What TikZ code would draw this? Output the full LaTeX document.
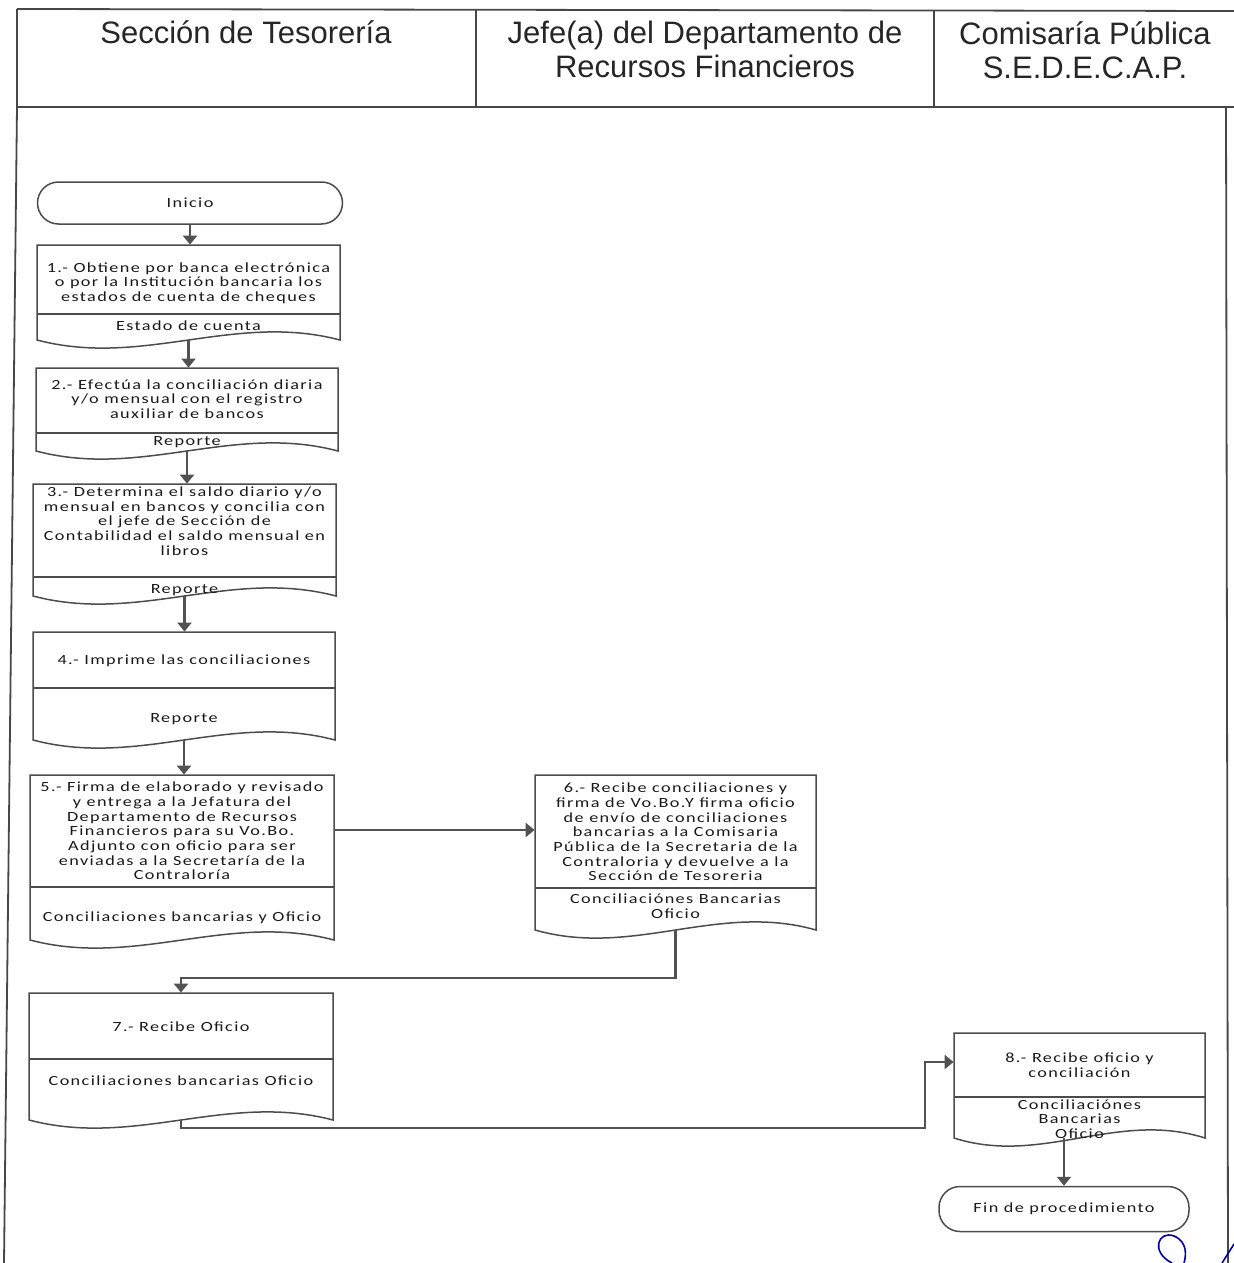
\documentclass[tikz,border=0pt]{standalone}
\usepackage{fontspec}
\usetikzlibrary{arrows.meta,fit}
\newfontfamily\headfont{Liberation Sans}
\newfontfamily\stepfont[FakeStretch=1.3,LetterSpace=10]{Carlito}

\tikzset{
  frame/.style={draw=black!72, line width=0.9pt},
  shapeline/.style={draw=black!70, line width=0.75pt},
  flow/.style={draw=black!68, line width=1.1pt, -{Triangle[length=4.5pt,width=7pt]}},
  head/.style={font=\headfont\fontsize{15.5}{17}\selectfont, text=black!85, align=center, inner sep=0pt},
  steptext/.style={font=\stepfont\fontsize{7}{7.35}\selectfont, text=black!90, align=center, inner sep=0pt},
  term/.style={draw=black!70, line width=0.75pt, rounded corners=10.5pt, inner sep=0pt,
    font=\stepfont\fontsize{7}{7.35}\selectfont, text=black!90},
  boxarea/.style={inner sep=0pt}
}

% document shape: name, x1, y1, x2, y2 (bottom corners), y of the separator
\newcommand\docbox[6]{%
  \node[boxarea, fit={(#2,#3) (#4,#5)}] (#1) {};
  \draw[shapeline] (#2,#3) -- (#4,#3) -- (#4,#5)
    .. controls ({#4-0.35*(#4-#2)},{#5-28}) and ({#2+0.35*(#4-#2)},{#5+28}) .. (#2,#5) -- cycle;
  \draw[shapeline] (#2,#6) -- (#4,#6);
}

\begin{document}
\begin{tikzpicture}[x=0.5pt,y=-0.5pt]
\useasboundingbox (0,0) rectangle (1234,1263);

% swimlane header and frame
\draw[frame] (17,9) -- (1236,11);
\draw[frame] (17,107) -- (1236,107);
\draw[frame] (17,9) -- (17,107) -- (4,1263);
\draw[frame] (476,9) -- (476,107);
\draw[frame] (934,10) -- (934,107);
\draw[frame] (1226,107) -- (1228,1263);

\node[head] (h1) at (246,32) {Sección de Tesorería};
\node[head] (h2) at (705,49) {Jefe(a) del Departamento de\\Recursos Financieros};
\node[head] (h3) at (1085,50) {Comisaría Pública\\S.E.D.E.C.A.P.};

% start
\node[term, minimum width=152.5pt, minimum height=21pt] (ini) at (190,203) {Inicio};

% process steps
\docbox{b1}{37}{245}{340}{340}{314}
\node[steptext] (b1t) at (188.5,283) {1.- Obtiene por banca electrónica\\o por la Institución bancaria los\\estados de cuenta de cheques};
\node[steptext] (b1l) at (188.5,326) {Estado de cuenta};

\docbox{b2}{36}{368}{338}{451}{433}
\node[steptext] (b2t) at (187,399) {2.- Efectúa la conciliación diaria\\y/o mensual con el registro\\auxiliar de bancos};
\node[steptext] (b2l) at (187,442) {Reporte};

\docbox{b3}{33}{484}{336}{596}{577}
\node[steptext] (b3t) at (184.5,521) {3.- Determina el saldo diario y/o\\mensual en bancos y concilia con\\el jefe de Sección de\\Contabilidad el saldo mensual en\\libros};
\node[steptext] (b3l) at (184.5,590) {Reporte};

\docbox{b4}{33}{632}{335}{740}{688}
\node[steptext] (b4t) at (184,661) {4.- Imprime las conciliaciones};
\node[steptext] (b4l) at (184,719) {Reporte};

\docbox{b5}{30}{775}{334}{940}{887}
\node[steptext] (b5t) at (182,831) {5.- Firma de elaborado y revisado\\y entrega a la Jefatura del\\Departamento de Recursos\\Financieros para su Vo.Bo.\\Adjunto con oficio para ser\\enviadas a la Secretaría de la\\Contraloría};
\node[steptext] (b5l) at (182,918) {Conciliaciones bancarias y Oficio};

\docbox{b6}{535}{775}{816}{930}{888}
\node[steptext] (b6t) at (675.5,832) {6.- Recibe conciliaciones y\\firma de Vo.Bo.Y firma oficio\\de envío de conciliaciones\\bancarias a la Comisaria\\Pública de la Secretaria de la\\Contraloria y devuelve a la\\Sección de Tesoreria};
\node[steptext] (b6l) at (675.5,906) {Conciliaciónes Bancarias\\Oficio};

\docbox{b7}{29}{993}{333}{1120}{1059}
\node[steptext] (b7t) at (181,1027) {7.- Recibe Oficio};
\node[steptext] (b7l) at (181,1081) {Conciliaciones bancarias Oficio};

\docbox{b8}{954}{1033}{1205}{1138}{1097}
\node[steptext] (b8t) at (1079.5,1065) {8.- Recibe oficio y\\conciliación};
\node[steptext] (b8l) at (1079.5,1119) {Conciliaciónes\\Bancarias\\Oficio};

% end
\node[term, minimum width=125pt, minimum height=22.5pt] (fin) at (1064,1209) {Fin de procedimiento};

% connectors
\draw[flow] (ini.south) -- (ini.south |- b1.north);
\draw[flow] (b1.south) -- (b1.south |- b2.north);
\draw[flow] (b2.south) -- (b2.south |- b3.north);
\draw[flow] (b3.south) -- (b3.south |- b4.north);
\draw[flow] (b4.south) -- (b4.south |- b5.north);
\draw[flow] (b5.east |- 0,830) -- (b6.west |- 0,830);
\coordinate (j1) at (181,978);
\draw[flow] (b6.south) |- (j1) -- (j1 |- b7.north);
\coordinate (j2) at (925,1128);
\draw[flow] (b7.south) |- (j2) |- (b8.west |- 0,1062);
\draw[flow] (b8.south -| fin.north) -- (fin.north);

% ink mark in the corner
\draw[blue!65!black, line width=0.8pt] (1172,1263) .. controls (1150,1252) and (1158,1230) .. (1174,1236)
  .. controls (1188,1242) and (1186,1256) .. (1184,1263);
\draw[blue!65!black, line width=0.8pt] (1222,1263) -- (1234,1244);
\end{tikzpicture}
\end{document}
